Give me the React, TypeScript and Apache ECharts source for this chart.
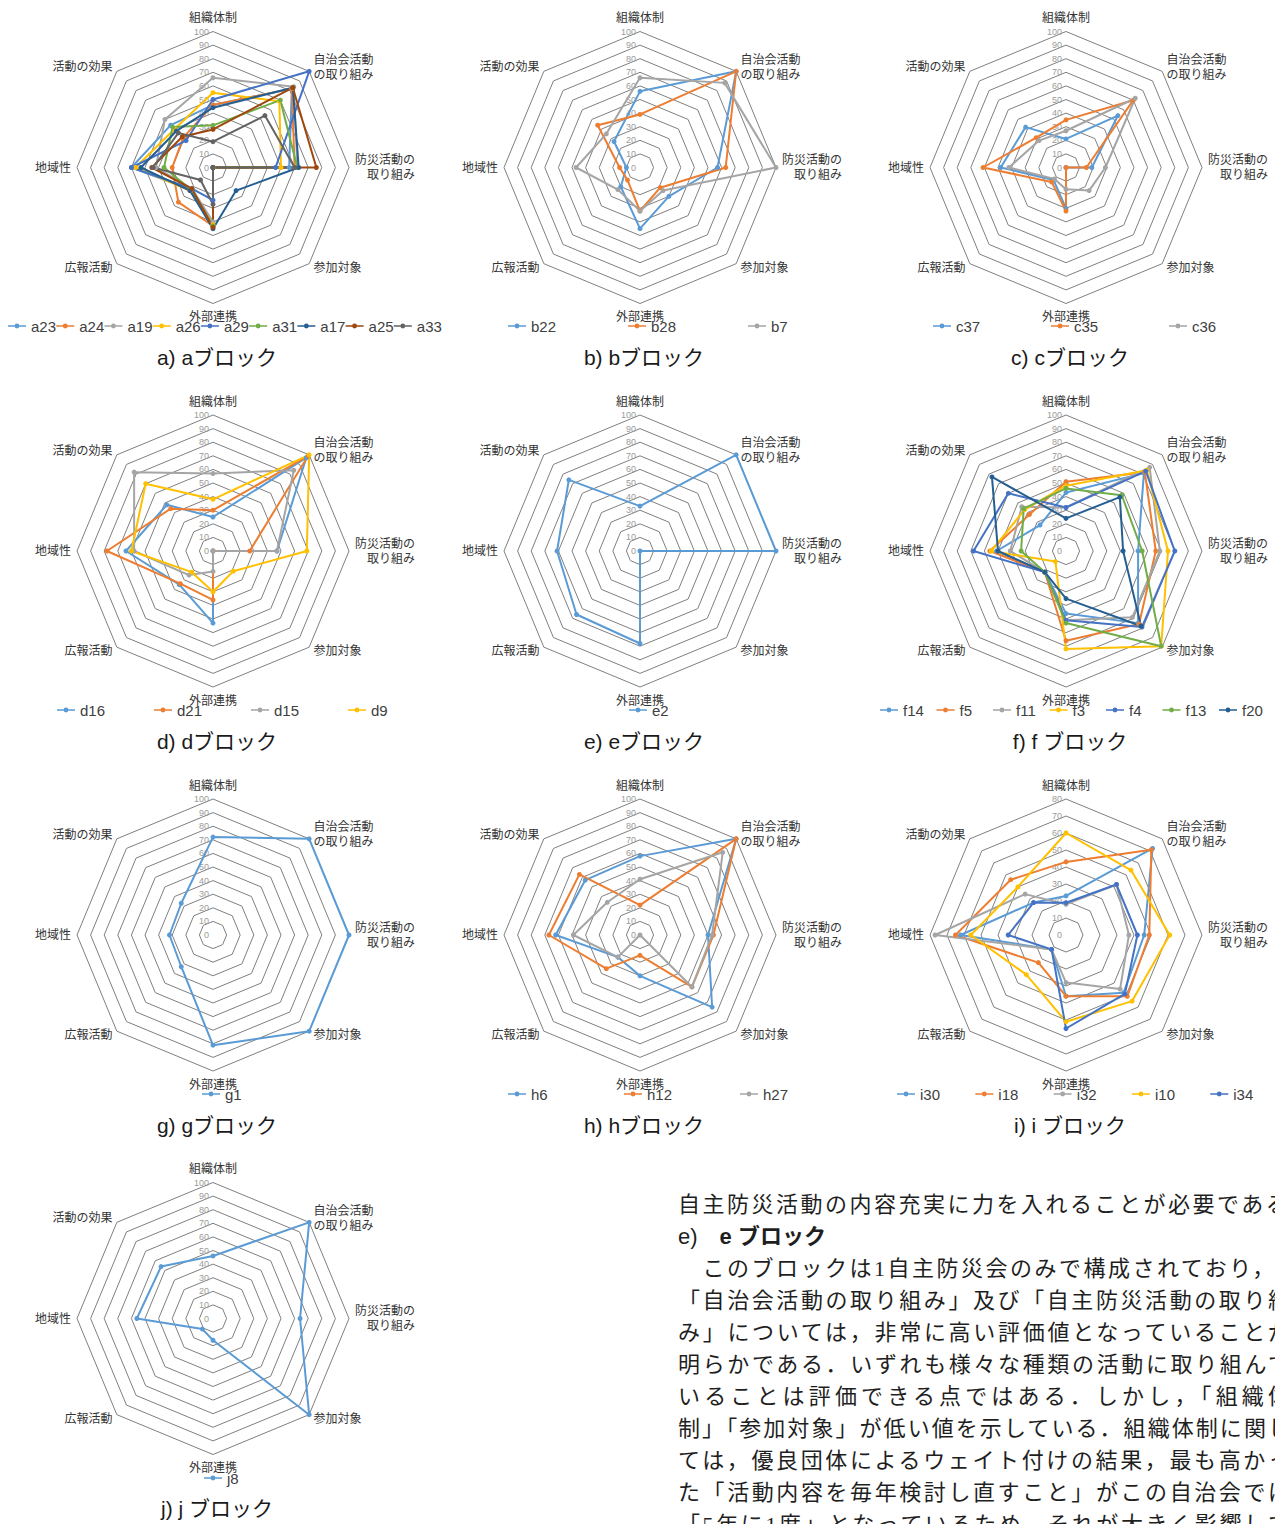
import React, { useEffect, useRef } from 'react';
import * as echarts from 'echarts';

// ---- data ----
// axes listed clockwise starting from the top
const AXES_CW = ['組織体制', '自治会活動\nの取り組み', '防災活動の\n取り組み', '参加対象', '外部連携', '広報活動', '地域性', '活動の効果'];

const A_NAMES = ['a23', 'a24', 'a19', 'a26', 'a29', 'a31', 'a17', 'a25', 'a33'];
const A_VALUES = [
  [46, 82, 56, 0, 43, 23, 60, 44],
  [46, 82, 60, 0, 43, 36, 30, 31],
  [66, 84, 62, 0, 40, 22, 42, 50],
  [55, 69, 50, 0, 42, 24, 57, 40],
  [50, 100, 46, 0, 24, 22, 60, 28],
  [31, 70, 62, 0, 43, 23, 36, 42],
  [44, 83, 63, 24, 45, 24, 53, 38],
  [28, 83, 76, 0, 44, 22, 45, 32],
  [19, 54, 60, 0, 27, 13, 44, 36],
];
const B_NAMES = ['b22', 'b28', 'b7'];
const B_VALUES = [
  [56, 100, 57, 30, 45, 20, 10, 27],
  [39, 100, 63, 21, 32, 13, 15, 44],
  [66, 88, 100, 24, 32, 23, 47, 35],
];
const C_NAMES = ['c37', 'c35', 'c36'];
const C_VALUES = [
  [21, 54, 19, 0, 30, 13, 48, 42],
  [35, 70, 15, 0, 32, 15, 61, 31],
  [27, 72, 29, 24, 16, 12, 42, 28],
];
const D_NAMES = ['d16', 'd21', 'd15', 'd9'];
const D_VALUES = [
  [25, 97, 47, 0, 53, 35, 64, 48],
  [30, 99, 27, 0, 36, 34, 78, 44],
  [57, 84, 47, 0, 15, 25, 58, 82],
  [38, 100, 69, 21, 30, 22, 60, 70],
];
const E_NAMES = ['e2'];
const E_VALUES = [[33, 100, 100, 0, 68, 66, 61, 74]];
const F_NAMES = ['f14', 'f5', 'f11', 'f3', 'f4', 'f13', 'f20'];
const F_VALUES = [
  [43, 81, 53, 75, 46, 22, 51, 27],
  [51, 82, 66, 76, 66, 22, 56, 38],
  [32, 87, 69, 69, 51, 22, 41, 46],
  [48, 84, 75, 99, 72, 11, 55, 43],
  [32, 83, 80, 79, 51, 22, 68, 60],
  [46, 58, 56, 99, 53, 22, 33, 44],
  [24, 56, 42, 78, 35, 22, 50, 77],
];
const G_NAMES = ['g1'];
const G_VALUES = [[72, 100, 100, 100, 81, 33, 32, 33]];
const H_NAMES = ['h6', 'h12', 'h27'];
const H_VALUES = [
  [58, 100, 50, 75, 30, 23, 62, 57],
  [22, 100, 54, 54, 15, 35, 67, 63],
  [41, 86, 53, 54, 0, 23, 49, 34],
];
const I_NAMES = ['i30', 'i18', 'i32', 'i10', 'i34'];
const I_VALUES = [
  [23, 72, 46, 48, 36, 12, 62, 27],
  [43, 71, 49, 51, 36, 23, 65, 46],
  [18, 42, 37, 45, 28, 12, 77, 34],
  [60, 54, 61, 55, 51, 33, 56, 40],
  [19, 42, 42, 49, 55, 12, 34, 27],
];
const J_NAMES = ['j8'];
const J_VALUES = [[46, 100, 64, 100, 16, 11, 56, 54]];

const TITLES = ['a) aブロック', 'b) bブロック', 'c) cブロック', 'd) dブロック', 'e) eブロック', 'f) f ブロック', 'g) gブロック', 'h) hブロック', 'i) i ブロック', 'j) j ブロック'];

const BODY_FIRST = '自主防災活動の内容充実に力を入れることが必要である．';
const BODY_HEAD_A = 'e)';
const BODY_HEAD_B = 'e ブロック';
const BODY_INDENT = '　このブロックは1自主防災会のみで構成されており，';
const BODY_LINES = [
  '「自治会活動の取り組み」及び「自主防災活動の取り組',
  'み」については，非常に高い評価値となっていることが',
  '明らかである．いずれも様々な種類の活動に取り組んで',
  'いることは評価できる点ではある．しかし，「組織体',
  '制」「参加対象」が低い値を示している．組織体制に関し',
  'ては，優良団体によるウェイト付けの結果，最も高かっ',
  'た「活動内容を毎年検討し直すこと」がこの自治会では',
  '「5年に1度」となっているため，それが大きく影響して',
];

// ---- styling / layout ----
const PALETTE = ['#5B9BD5', '#ED7D31', '#A5A5A5', '#FFC000', '#4472C4', '#70AD47', '#255E91', '#9E480E', '#636363'];
const SANS = "'Liberation Sans', 'Noto Sans CJK JP', sans-serif";
const SERIF = "'Liberation Serif', 'Noto Sans CJK JP', serif";
const ICON = 'path://M0,2.3H20V3.7H0Z M12.7,3A2.7,2.7 0 1 1 7.3,3A2.7,2.7 0 1 1 12.7,3Z';

const COLS = [213, 640, 1066];
const ROWS = [167.5, 551, 935, 1318.5];
const LEGEND_Y = [326, 710, 1094, 1478];
const TITLE_X = [217, 644, 1070];
const TITLE_Y = [357, 741, 1125, 1508];

const PANELS = [
  { names: A_NAMES, values: A_VALUES, max: 100, col: 0, row: 0, legendLeft: 8, period: 47.2, textW: 24 },
  { names: B_NAMES, values: B_VALUES, max: 100, col: 1, row: 0, legendLeft: 508, period: 120, textW: 26 },
  { names: C_NAMES, values: C_VALUES, max: 100, col: 2, row: 0, legendLeft: 933, period: 118, textW: 26 },
  { names: D_NAMES, values: D_VALUES, max: 100, col: 0, row: 1, legendLeft: 57, period: 97, textW: 26 },
  { names: E_NAMES, values: E_VALUES, max: 100, col: 1, row: 1, legendLeft: 629, period: 60, textW: 20 },
  { names: F_NAMES, values: F_VALUES, max: 100, col: 2, row: 1, legendLeft: 880, period: 56.5, textW: 21 },
  { names: G_NAMES, values: G_VALUES, max: 100, col: 0, row: 2, legendLeft: 202, period: 60, textW: 20 },
  { names: H_NAMES, values: H_VALUES, max: 100, col: 1, row: 2, legendLeft: 508, period: 116, textW: 26 },
  { names: I_NAMES, values: I_VALUES, max: 80, col: 2, row: 2, legendLeft: 897, period: 78.3, textW: 20 },
  { names: J_NAMES, values: J_VALUES, max: 100, col: 0, row: 3, legendLeft: 204, period: 60, textW: 20 },
];

// ECharts radar runs counter-clockwise: reorder clockwise lists
const toEc = <T,>(arr: T[]): T[] => arr.map((_, k) => arr[(arr.length - k) % arr.length]);

function axisNameFormatter(name: string) {
  if (name.indexOf('防災') === 0) {
    return name.split('\n').map((s) => `{r|${s}}`).join('\n');
  }
  return name;
}

export default function App() {
  const ref = useRef<HTMLDivElement>(null);
  useEffect(() => {
    if (!ref.current) return;
    const chart = echarts.init(ref.current, undefined, { renderer: 'svg' });
    const option: any = {
      animation: false,
      textStyle: { fontFamily: SANS },
      radar: PANELS.map((p) => ({
        center: [COLS[p.col], ROWS[p.row]],
        radius: 136,
        startAngle: 90,
        shape: 'polygon',
        splitNumber: p.max / 10,
        indicator: toEc(AXES_CW).map((name, k) => {
          const ind: any = { name, min: 0, max: p.max };
          if (k === 0) ind.axisLabel = { show: true };
          return ind;
        }),
        nameGap: 6,
        axisName: {
          color: '#333333',
          fontSize: 12,
          lineHeight: 15,
          fontFamily: SANS,
          formatter: axisNameFormatter,
          rich: { r: { width: 60, align: 'right', fontSize: 12, lineHeight: 15, color: '#333333', fontFamily: SANS } },
        },
        axisLine: { show: false },
        axisTick: { show: false },
        axisLabel: { show: false, color: '#9a9a9a', fontSize: 9, margin: 4, fontFamily: SANS },
        splitLine: { lineStyle: { color: '#7f7f7f', width: 1 } },
        splitArea: { show: false },
      })),
      series: PANELS.map((p, i) => ({
        type: 'radar',
        radarIndex: i,
        symbol: 'circle',
        symbolSize: 5,
        emphasis: { disabled: true },
        data: p.names.map((n, j) => ({
          name: n,
          value: toEc(p.values[j]),
          lineStyle: { color: PALETTE[j], width: 2 },
          itemStyle: { color: PALETTE[j] },
        })),
      })),
      legend: PANELS.map((p) => ({
        data: p.names,
        left: p.legendLeft,
        top: LEGEND_Y[p.row] - 8,
        orient: 'horizontal',
        icon: ICON,
        itemWidth: 18,
        itemHeight: 6,
        itemGap: p.period - 18 - 5 - p.textW,
        selectedMode: false,
        padding: 0,
        textStyle: { fontSize: 15, color: '#404040', width: p.textW, lineHeight: 16, fontFamily: SANS },
      })),
      graphic: PANELS.map((p, i) => ({
        type: 'text',
        x: TITLE_X[p.col],
        y: TITLE_Y[p.row],
        style: {
          text: TITLES[i],
          fill: '#1a1a1a',
          font: `21px ${SANS}`,
          align: 'center',
          verticalAlign: 'middle',
        },
      })),
    };
    chart.setOption(option);
    return () => chart.dispose();
  }, []);

  const justified: React.CSSProperties = {
    width: 612,
    textAlign: 'justify',
    textAlignLast: 'justify' as any,
    letterSpacing: '0px',
  };

  return (
    <div style={{ position: 'absolute', left: 0, top: 0, width: 1275, height: 1524, overflow: 'hidden', background: '#fff' }}>
      <div ref={ref} style={{ position: 'absolute', left: 0, top: 0, width: 1275, height: 1524 }} />
      <div
        style={{
          position: 'absolute',
          left: 678,
          top: 1189,
          width: 597,
          height: 335,
          overflow: 'hidden',
          whiteSpace: 'nowrap',
          fontFamily: SERIF,
          fontSize: 22,
          lineHeight: '32px',
          letterSpacing: '2.5px',
          color: '#1f1f1f',
        }}
      >
        <div>{BODY_FIRST}</div>
        <div style={{ fontFamily: SANS, letterSpacing: '0px' }}>
          <span>{BODY_HEAD_A}</span>
          <span>{'　'}</span>
          <span style={{ fontWeight: 'bold' }}>{BODY_HEAD_B}</span>
        </div>
        <div>{BODY_INDENT}</div>
        {BODY_LINES.map((line, i) => (
          <div key={i} style={justified}>{line}</div>
        ))}
      </div>
    </div>
  );
}
